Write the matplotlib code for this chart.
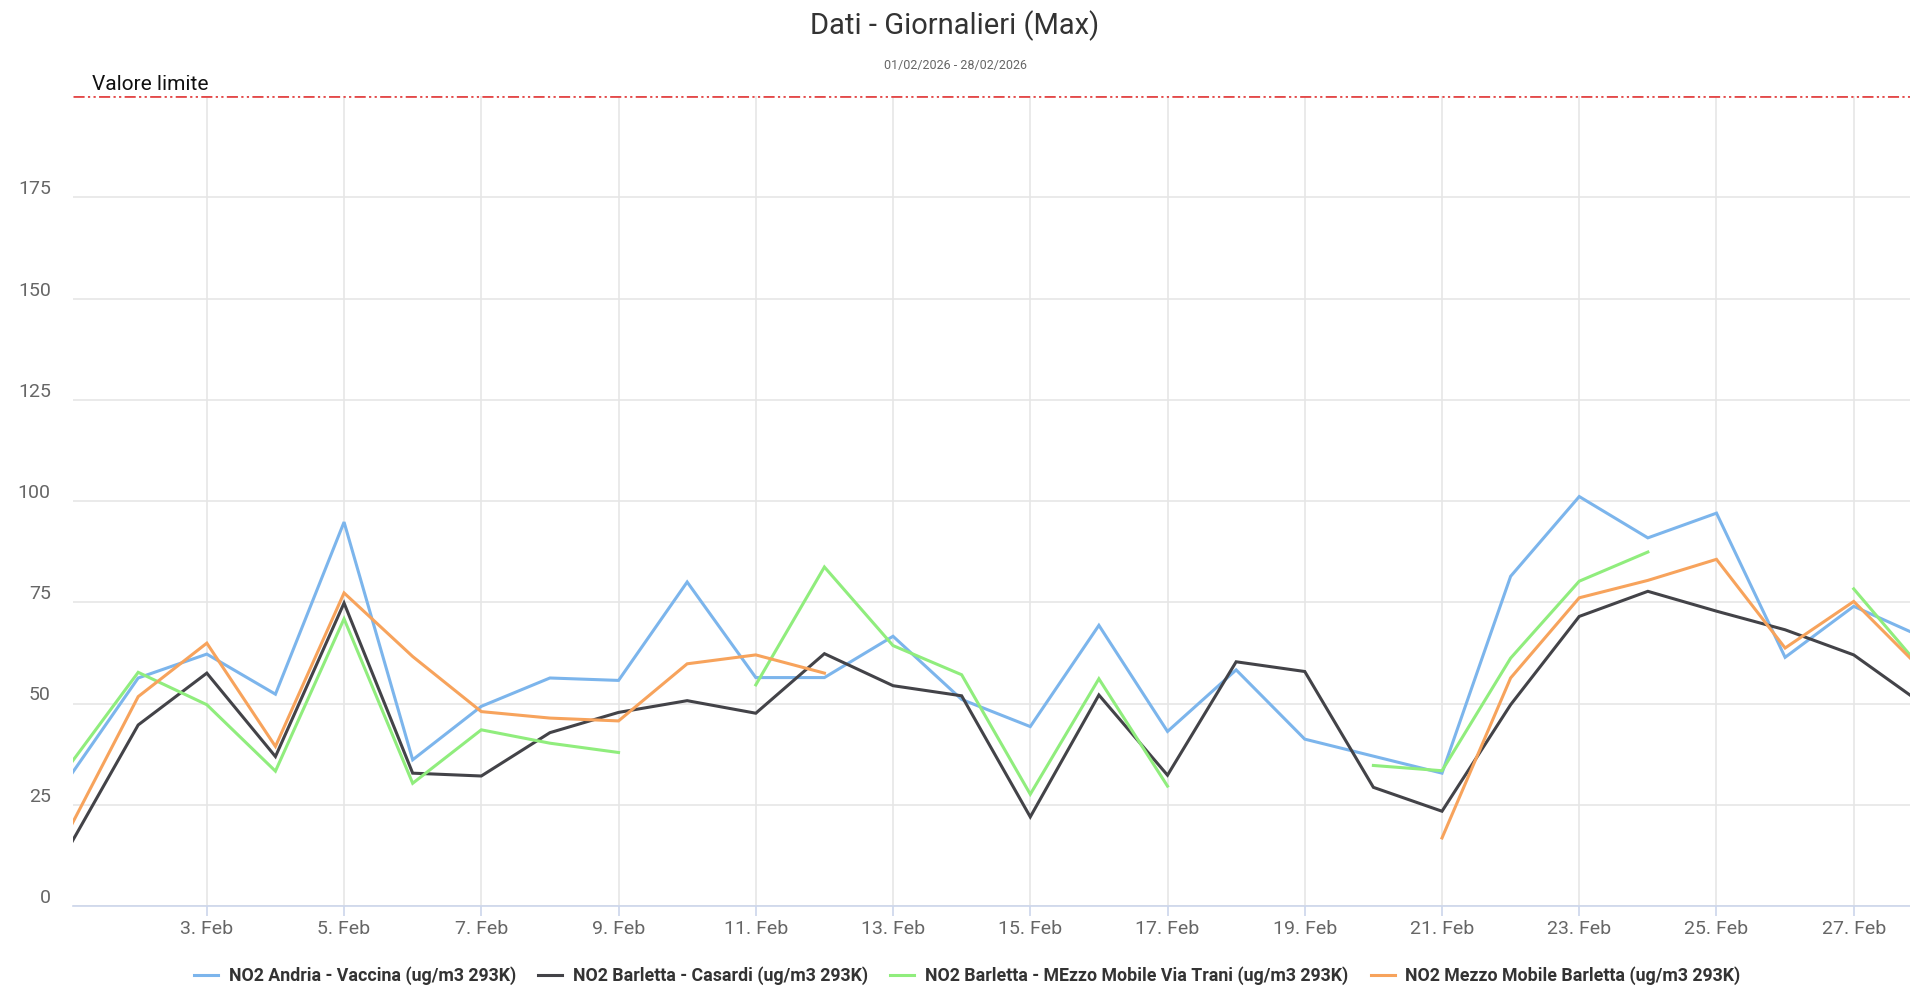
import numpy as np
import matplotlib
matplotlib.use('Agg')
import matplotlib.pyplot as plt
import matplotlib.transforms as mtransforms

nan = np.nan

# giorni di febbraio 2026
days = np.arange(1, 29)

# valori massimi giornalieri NO2 (ug/m3 293K)
andria_vaccina = [31.9, 56.3, 62.2, 52.3, 94.8, 36.1, 49.3, 56.3, 55.7, 80.0,
                  56.4, 56.4, 66.6, 51.0, 44.3, 69.3, 43.1, 58.3, 41.2, 37.0,
                  32.8, 81.4, 101.1, 90.9, 97.0, 61.4, 74.0, 66.4]
barletta_casardi = [14.8, 44.7, 57.5, 36.9, 74.8, 32.8, 32.1, 42.8, 47.8, 50.7,
                    47.6, 62.3, 54.4, 51.9, 22.0, 52.1, 32.3, 60.3, 57.9, 29.3,
                    23.4, 49.7, 71.5, 77.7, 72.8, 68.2, 62.0, 49.9]
barletta_via_trani = [34.8, 57.7, 49.7, 33.3, 70.9, 30.3, 43.5, 40.2, 37.9, nan,
                      54.6, 83.7, 64.3, 57.1, 27.6, 56.1, 29.6, nan, nan, 34.7,
                      33.4, 61.2, 80.2, 87.4, nan, nan, 78.3, 58.4]
mezzo_mobile = [19.1, 51.7, 64.9, 39.4, 77.3, 61.6, 48.0, 46.4, 45.7, 59.8,
                62.0, 57.5, nan, nan, nan, nan, nan, nan, nan, nan,
                16.8, 56.3, 76.1, 80.4, 85.6, 63.7, 75.2, 58.2]

series_names = ['NO2 Andria - Vaccina (ug/m3 293K)',
                'NO2 Barletta - Casardi (ug/m3 293K)',
                'NO2 Barletta - MEzzo Mobile Via Trani (ug/m3 293K)',
                'NO2 Mezzo Mobile Barletta (ug/m3 293K)']
series_colors = ['#7cb5ec', '#434348', '#90ed7d', '#f7a35c']

valore_limite = 200
y_ticks = [0, 25, 50, 75, 100, 125, 150, 175]
x_ticks = list(range(3, 28, 2))
x_labels = [f'{d}. Feb' for d in x_ticks]

plt.rcParams['font.family'] = ['Roboto', 'DejaVu Sans']

fig = plt.figure(figsize=(19.10, 9.86), dpi=100)
ax = fig.add_axes([73 / 1910, (986 - 906) / 986, 1 - 73 / 1910, (906 - 96) / 986])

for values, name, color in zip([andria_vaccina, barletta_casardi, barletta_via_trani, mezzo_mobile],
                               series_names, series_colors):
    ax.plot(days, values, color=color, linewidth=2.2, label=name, solid_joinstyle='miter')

ax.axhline(valore_limite, color='#e34a4a', linewidth=2, linestyle=(0, (4, 1.2, 0.8, 1.2, 0.8, 1.2)), zorder=5)
ax.text(1.33, valore_limite + 0.6, 'Valore limite', fontsize=15, color='#111111', va='bottom', ha='left')

ax.set_xlim(1.05, 27.82)
ax.set_ylim(0, 200)

ax.set_yticks(y_ticks)
ax.set_yticklabels([str(v) for v in y_ticks])
ax.set_xticks(x_ticks)
ax.set_xticklabels(x_labels)

ax.grid(True, color='#e6e6e6', linewidth=1.2)
ax.set_axisbelow(True)
for side in ('top', 'right', 'left'):
    ax.spines[side].set_visible(False)
ax.spines['bottom'].set_color('#ccd6eb')
ax.spines['bottom'].set_linewidth(1.2)

ax.tick_params(axis='y', length=0, pad=16, labelsize=14, labelcolor='#666666')
ax.tick_params(axis='x', length=7, width=1.2, color='#ccd6eb', pad=3, labelsize=14, labelcolor='#666666')

# etichette y sopra la griglia, come nell'originale
offset = mtransforms.ScaledTranslation(0, 10 / 100, fig.dpi_scale_trans)
for lbl in ax.get_yticklabels():
    lbl.set_transform(lbl.get_transform() + offset)

fig.text(0.5, 1 - 26 / 986, 'Dati - Giornalieri (Max)', ha='center', va='center', fontsize=21, color='#333333')
fig.text(0.5, 1 - 65 / 986, '01/02/2026 - 28/02/2026', ha='center', va='center', fontsize=9, color='#666666')

fig.legend(loc='center', bbox_to_anchor=(0.5065, 10 / 986), ncol=4, frameon=False,
           prop={'size': 12.8, 'weight': 'bold'}, labelcolor='#333333',
           handlelength=1.35, handletextpad=0.6, columnspacing=1.25)

fig.savefig('out.png', dpi=100)
